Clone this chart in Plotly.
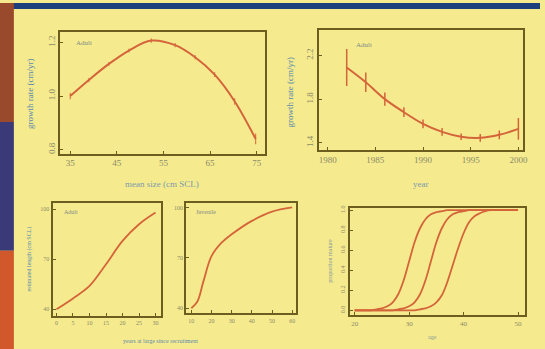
import plotly.graph_objects as go

W, H = 545, 349

# ---------------- data ----------------
# Panel 1: growth rate vs mean size (adults)
p1_size = [35, 39, 43.3, 47.6, 52.4, 57.5, 61.8, 66, 70.3, 74.8]
p1_rate = [1.00, 1.06, 1.12, 1.17, 1.207, 1.19, 1.145, 1.08, 0.98, 0.84]
p1_err = [0.012, 0.008, 0.007, 0.007, 0.008, 0.008, 0.008, 0.009, 0.012, 0.02]
p1_xticks = [35, 45, 55, 65, 75]
p1_yticks = [0.8, 1.0, 1.2]

# Panel 2: growth rate vs year (adults)
p2_year = [1982, 1984, 1986, 1988, 1990, 1992, 1994, 1996, 1998, 2000]
p2_rate = [2.09, 1.955, 1.80, 1.68, 1.573, 1.50, 1.455, 1.445, 1.473, 1.527]
p2_err = [0.17, 0.09, 0.06, 0.045, 0.04, 0.035, 0.03, 0.035, 0.04, 0.1]
p2_xticks = [1980, 1985, 1990, 1995, 2000]
p2_yticks = [1.4, 1.8, 2.2]

# Panel 3: length vs years at large (adults)
p3_years = [0, 5, 10, 15, 20, 25, 30]
p3_len = [40, 46.5, 54, 67, 81, 91, 98]
p3_xticks = [0, 5, 10, 15, 20, 25, 30]
p3_yticks = [40, 70, 100]

# Panel 4: length vs years at large (juveniles)
p4_years = [10, 13, 16, 20, 25, 30, 40, 50, 60]
p4_len = [40, 44, 56, 71, 79, 84, 92, 97.5, 100]
p4_xticks = [10, 20, 30, 40, 50, 60]
p4_yticks = [40, 70, 100]

# Panel 5: proportion mature vs age (three curves)
p5_age = list(range(20, 51))
p5_c1 = [0, 0, 0, 0, 0.01, 0.02, 0.04, 0.08, 0.16, 0.30, 0.49, 0.68, 0.82, 0.91, 0.96,
         0.98, 0.99, 1, 1, 1, 1, 1, 1, 1, 1, 1, 1, 1, 1, 1, 1]
p5_c2 = [0, 0, 0, 0, 0, 0, 0, 0, 0.01, 0.02, 0.04, 0.08, 0.16, 0.30, 0.49, 0.68, 0.82,
         0.91, 0.96, 0.98, 0.99, 1, 1, 1, 1, 1, 1, 1, 1, 1, 1]
p5_c3 = [0, 0, 0, 0, 0, 0, 0, 0, 0, 0, 0, 0, 0.01, 0.02, 0.04, 0.08, 0.15, 0.28, 0.45,
         0.62, 0.77, 0.88, 0.94, 0.97, 0.99, 1, 1, 1, 1, 1, 1]
p5_xticks = [20, 30, 40, 50]
p5_yticks = [0, 0.2, 0.4, 0.6, 0.8, 1.0]

# ---------------- style ----------------
BG = "#f5eb8e"
CURVE = "#d4643a"
AXIS = "#6b5e1e"
TICK = "#8c8a68"
TITLE = "#5a88ad"
FONT = "Liberation Serif"


def px_x(a, b):
    return [a / W, b / W]


def px_y(top, bottom):
    return [1 - bottom / H, 1 - top / H]


fig = go.Figure()

# Panel 1
fig.add_trace(go.Scatter(x=p1_size, y=p1_rate, mode="lines", line=dict(color=CURVE, width=2, shape="spline"),
                         error_y=dict(type="data", array=p1_err, color=CURVE, thickness=1, width=0),
                         xaxis="x", yaxis="y", showlegend=False))
# Panel 2
fig.add_trace(go.Scatter(x=p2_year, y=p2_rate, mode="lines", line=dict(color=CURVE, width=2, shape="spline"),
                         error_y=dict(type="data", array=p2_err, color=CURVE, thickness=1.5, width=0),
                         xaxis="x2", yaxis="y2", showlegend=False))
# Panel 3
fig.add_trace(go.Scatter(x=p3_years, y=p3_len, mode="lines", line=dict(color=CURVE, width=1.8, shape="spline"),
                         xaxis="x3", yaxis="y3", showlegend=False))
# Panel 4
fig.add_trace(go.Scatter(x=p4_years, y=p4_len, mode="lines", line=dict(color=CURVE, width=1.8, shape="spline"),
                         xaxis="x4", yaxis="y4", showlegend=False))
# Panel 5
for c in (p5_c1, p5_c2, p5_c3):
    fig.add_trace(go.Scatter(x=p5_age, y=c, mode="lines", line=dict(color=CURVE, width=1.8, shape="spline"),
                             xaxis="x5", yaxis="y5", showlegend=False))


def ax(domain, rng, ticks, anchor, size=8, angle=0, fmt=None):
    d = dict(domain=domain, range=rng, tickvals=ticks, anchor=anchor,
             showline=True, mirror=True, linecolor=AXIS, linewidth=2,
             ticks="inside", ticklen=3, tickcolor=AXIS, tickwidth=1,
             showgrid=False, zeroline=False, tickangle=angle,
             tickfont=dict(family=FONT, size=size, color=TICK))
    if fmt:
        d["tickformat"] = fmt
    return d


fig.update_layout(
    width=W, height=H,
    margin=dict(l=0, r=0, t=0, b=0),
    paper_bgcolor=BG, plot_bgcolor=BG,
    xaxis=ax(px_x(61, 267), [32.9, 76.7], p1_xticks, "y", 9),
    yaxis=ax(px_y(29, 152), [0.785, 1.24], p1_yticks, "x", 9, -90, ".1f"),
    xaxis2=ax(px_x(322, 528), [1979.1, 2000.5], p2_xticks, "y2", 9),
    yaxis2=ax(px_y(27, 148), [1.336, 2.436], p2_yticks, "x2", 9, -90, ".1f"),
    xaxis3=ax(px_x(53, 162), [-1.2, 31.5], p3_xticks, "y3", 6),
    yaxis3=ax(px_y(202, 316), [35.8, 103.6], p3_yticks, "x3", 6),
    xaxis4=ax(px_x(188, 299), [7.5, 62], p4_xticks, "y4", 6),
    yaxis4=ax(px_y(202, 313), [37, 102.5], p4_yticks, "x4", 6),
    xaxis5=ax(px_x(353, 530), [19.1, 51.3], p5_xticks, "y5", 7),
    yaxis5=ax(px_y(207, 315), [-0.05, 1.02], p5_yticks, "x5", 6, -90, ".1f"),
)

# background photo artefacts: top strip and left edge
shapes = [
    dict(type="rect", xref="paper", yref="paper", x0=0, x1=1, y0=1 - 6 / H, y1=1,
         fillcolor="#1d3f7c", line_width=0, layer="below"),
    dict(type="rect", xref="paper", yref="paper", x0=0, x1=14 / W, y0=1 - 120 / H, y1=1,
         fillcolor="#9a4a2c", line_width=0, layer="below"),
    dict(type="rect", xref="paper", yref="paper", x0=0, x1=14 / W, y0=1 - 250 / H, y1=1 - 120 / H,
         fillcolor="#3b3a78", line_width=0, layer="below"),
    dict(type="rect", xref="paper", yref="paper", x0=0, x1=14 / W, y0=0, y1=1 - 250 / H,
         fillcolor="#d0582a", line_width=0, layer="below"),
]
fig.update_layout(shapes=shapes)


def ann(text, x, y, size=8, color=TITLE, angle=0, xanchor="center"):
    fig.add_annotation(text=text, x=x / W, y=1 - y / H, xref="paper", yref="paper",
                       showarrow=False, textangle=angle, xanchor=xanchor, yanchor="middle",
                       font=dict(family=FONT, size=size, color=color))


# axis titles
ann("growth rate (cm/yr)", 30, 92, 9, angle=-90)
ann("mean size (cm SCL)", 164, 183, 9, color="#7d9aac")
ann("growth rate (cm/yr)", 293, 90, 9, angle=-90)
ann("year", 425, 183, 9, color="#7d9aac")
ann("estimated length (cm SCL)", 30, 258, 6, angle=-90)
ann("years at large since recruitment", 162, 341, 6)
ann("proportion mature", 333, 260, 6, angle=-90, color="#8a9a9a")
ann("age", 437, 337, 6, color="#8a9a9a")

# panel labels
ann("Adult", 75, 40, 7, color="#7f8a86", xanchor="left")
ann("Adult", 357, 42, 7, color="#7f8a86", xanchor="left")
ann("Adult", 63, 211, 6, color="#7f8a86", xanchor="left")
ann("Juvenile", 196, 211, 6, color="#7f8a86", xanchor="left")

fig.write_html(
    "out.html",
    config={"displayModeBar": False},
    post_script="document.body.style.margin='0';document.body.style.overflow='hidden';"
                "document.body.style.background='" + BG + "';",
)
